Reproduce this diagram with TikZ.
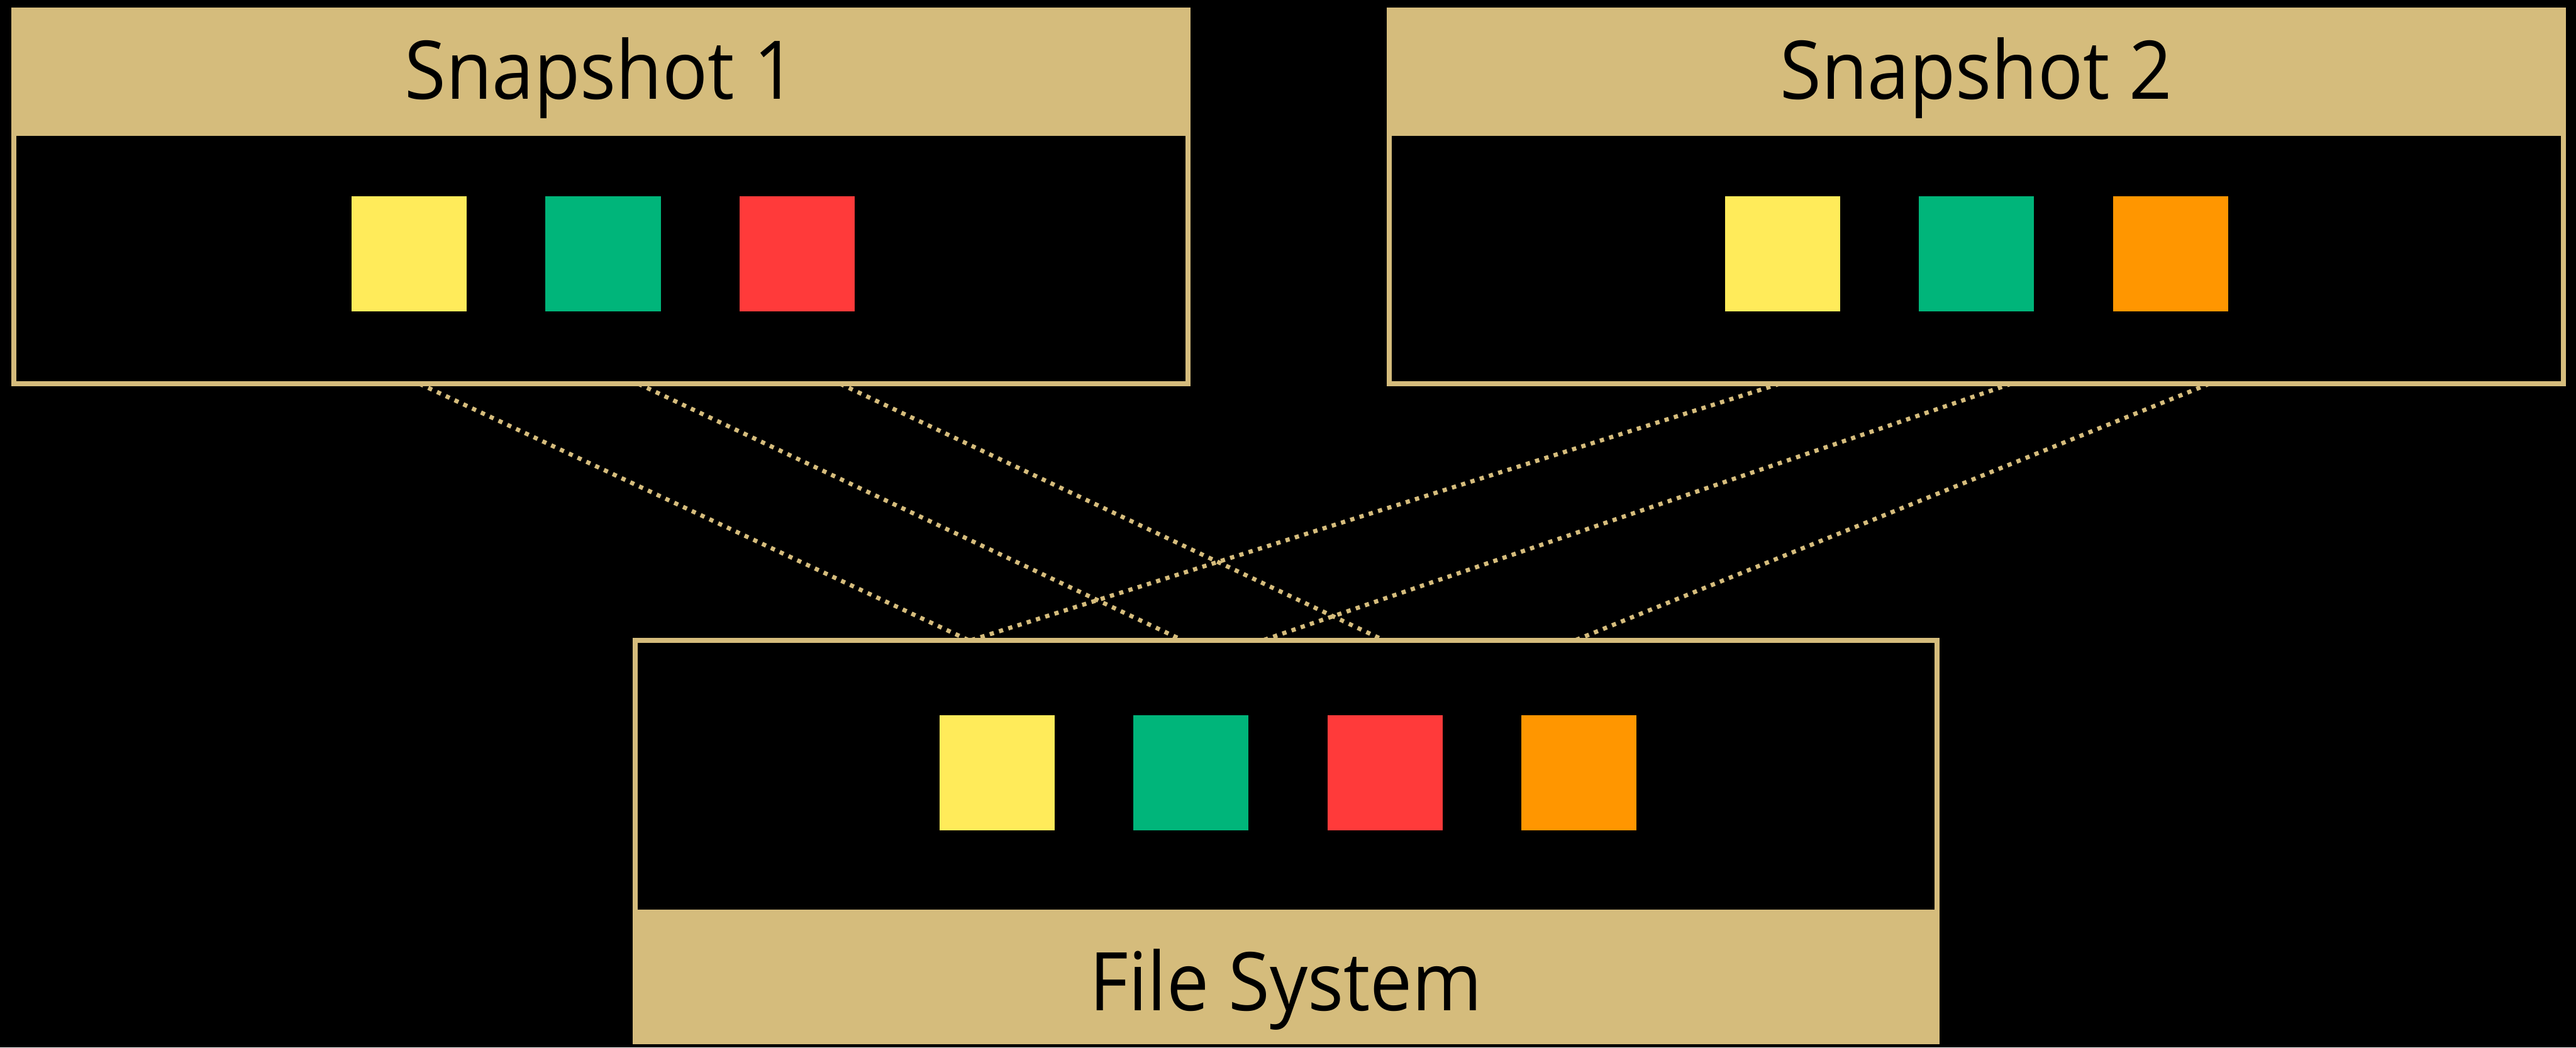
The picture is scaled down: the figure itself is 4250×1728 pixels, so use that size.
\documentclass[tikz,border=0pt]{standalone}
\usepackage{fontspec}
\setmainfont{Open Sans}[FakeStretch=0.93]
\usetikzlibrary{calc}

\definecolor{sandtan}{HTML}{D5BC7C}
\definecolor{blkyellow}{HTML}{FFEB5A}
\definecolor{blkgreen}{HTML}{00B57A}
\definecolor{blkred}{HTML}{FF3A3A}
\definecolor{blkorange}{HTML}{FF9600}

\begin{document}
\begin{tikzpicture}[x=0.1mm,y=-0.1mm,
  panel/.style={draw=sandtan, line width=0.8mm, fill=black, rectangle,
                inner sep=0pt, outer sep=0pt},
  snappanel/.style={panel, minimum width=193.7mm, minimum height=61.7mm},
  fspanel/.style={panel, minimum width=214.8mm, minimum height=66.2mm},
  block/.style={rectangle, minimum width=19mm, minimum height=19mm,
                inner sep=0pt, outer sep=0pt},
  link/.style={draw=sandtan, line width=0.7mm, dash pattern=on 0.7mm off 0.9mm},
  title/.style={anchor=base, inner sep=0pt, text=black,
                font=\fontsize{38pt}{40pt}\selectfont}]

% canvas
\fill[black] (0,0) rectangle (4250,1728);
\useasboundingbox (0,0) rectangle (4250,1728);

% Snapshot 1
\node[snappanel] (s1) at (991.5,324.5) {};
\fill[sandtan] (s1.north west) rectangle ($(s1.north east)+(0,208)$);
\node[title] (s1t) at ($(s1.north)+(0,147)$) {Snapshot 1};
\node[block, fill=blkyellow] (s1y) at (675,419) {};
\node[block, fill=blkgreen]  (s1g) at (995,419) {};
\node[block, fill=blkred]    (s1r) at (1315,419) {};

% Snapshot 2
\node[snappanel] (s2) at (3260.5,324.5) {};
\fill[sandtan] (s2.north west) rectangle ($(s2.north east)+(0,208)$);
\node[title] (s2t) at ($(s2.north)+(0,147)$) {Snapshot 2};
\node[block, fill=blkyellow] (s2y) at (2941,419) {};
\node[block, fill=blkgreen]  (s2g) at (3261,419) {};
\node[block, fill=blkorange] (s2o) at (3581,419) {};

% File System
\node[fspanel] (fs) at (2122,1387) {};
\fill[sandtan] ($(fs.south west)+(0,-218)$) rectangle (fs.south east);
\node[title] (fst) at ($(fs.south)+(0,-51)$) {File System};
\node[block, fill=blkyellow] (fsyb) at (1645,1275) {};
\node[block, fill=blkgreen]  (fsgb) at (1965,1275) {};
\node[block, fill=blkred]    (fsrb) at (2285,1275) {};
\node[block, fill=blkorange] (fsob) at (2605,1275) {};

% link end points on the panel borders
\coordinate (s1ya) at ($(s1.south west)+(669,0)$);
\coordinate (s1ga) at ($(s1.south west)+(1030,0)$);
\coordinate (s1ra) at ($(s1.south west)+(1363,0)$);
\coordinate (s2ya) at ($(s2.south west)+(644,0)$);
\coordinate (s2ga) at ($(s2.south west)+(1026,0)$);
\coordinate (s2oa) at ($(s2.south west)+(1353,0)$);
\coordinate (fsy1) at ($(fs.north west)+(550,0)$);
\coordinate (fsy2) at ($(fs.north west)+(554,0)$);
\coordinate (fsg1) at ($(fs.north west)+(903,0)$);
\coordinate (fsg2) at ($(fs.north west)+(1036,0)$);
\coordinate (fsr)  at ($(fs.north west)+(1235,0)$);
\coordinate (fso)  at ($(fs.north west)+(1551,0)$);

% links from the snapshots down to the file system
\draw[link] (s1ya) -- (fsy1);
\draw[link] (s1ga) -- (fsg1);
\draw[link] (s1ra) -- (fsr);
\draw[link] (s2ya) -- (fsy2);
\draw[link] (s2ga) -- (fsg2);
\draw[link] (s2oa) -- (fso);
\end{tikzpicture}
\end{document}
